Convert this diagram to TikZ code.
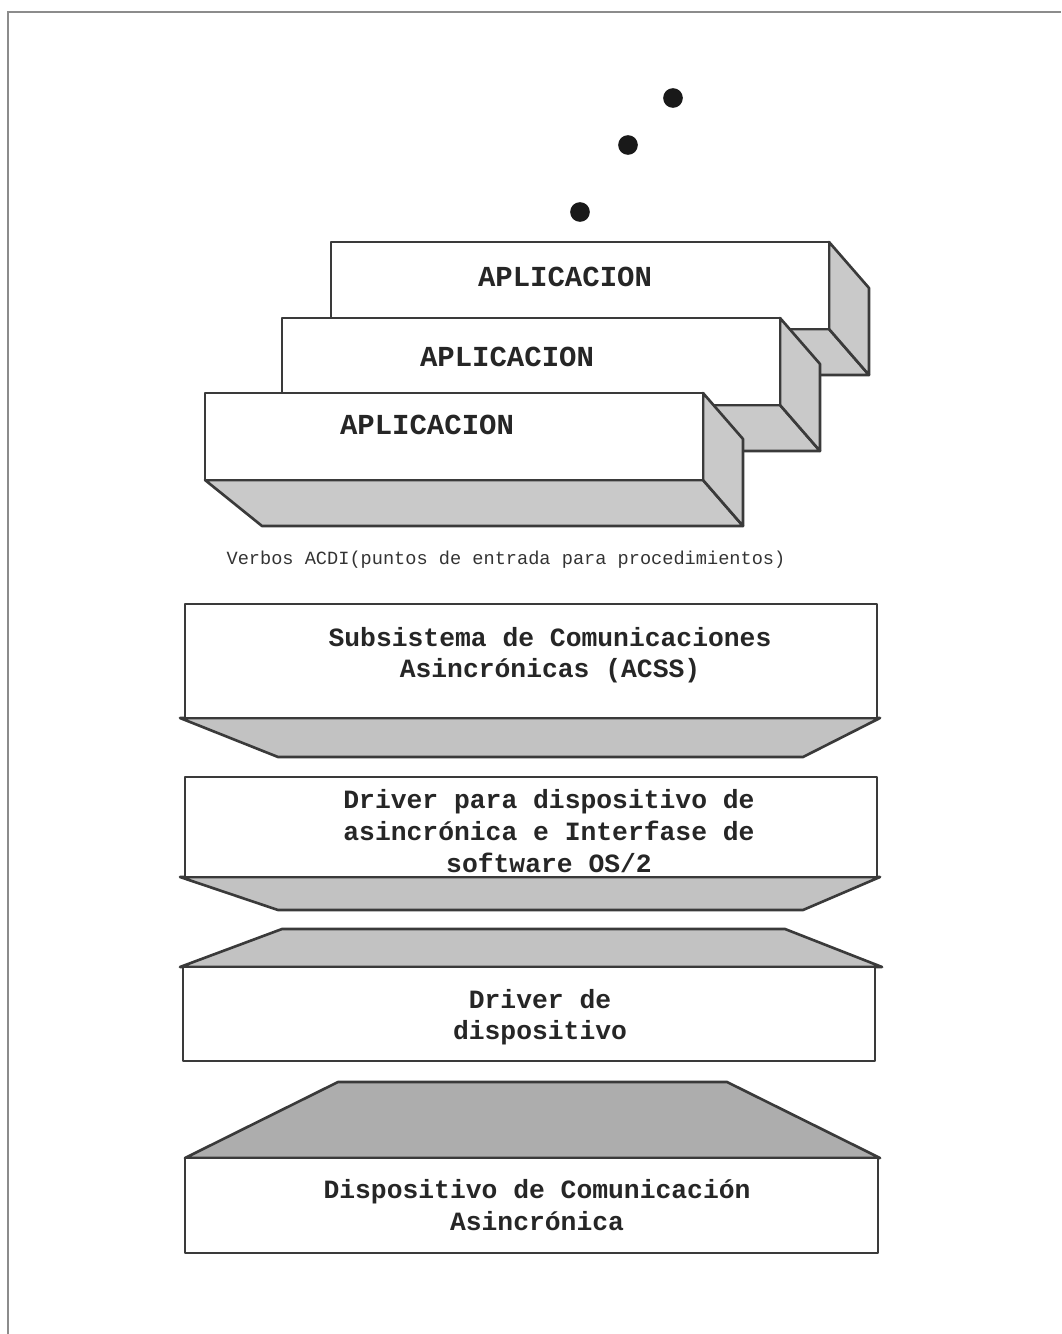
\documentclass[tikz,border=0pt]{standalone}
\usepackage{fontspec}
\usepackage{xcolor}
\newfontfamily\monofont{Liberation Mono}
\definecolor{linegray}{HTML}{3A3A3A}
\definecolor{sidegray}{HTML}{C9C9C9}
\definecolor{bevelgray}{HTML}{C2C2C2}
\definecolor{darkbevel}{HTML}{ADADAD}
\definecolor{framegray}{HTML}{8C8C8C}

\begin{document}
\begin{tikzpicture}[x=0.02cm,y=-0.02cm,
  face/.style={draw=linegray,fill=white,line width=1.5pt,line join=round},
  shadeface/.style={draw=linegray,fill=sidegray,line width=1.5pt,line join=round},
  layertext/.style={font=\monofont\bfseries\fontsize{15}{18}\selectfont,align=center,text=black!85},
  apptext/.style={font=\monofont\bfseries\fontsize{16.5}{20}\selectfont,text=black!85}]
\useasboundingbox (0,0) rectangle (1061,1334);
% frame of the page
\draw[framegray,line width=1.2pt] (8,1334) -- (8,12) -- (1061,12);
% dots
\foreach \x/\y in {580/212,628/145,673/98}{
\fill[black!90] (\x,\y) circle[radius=5.6pt];
}
% the three application boxes, back to front
\foreach \x/\y/\lx/\ly/\n in {331/242/565/277/1,282/318/507/357/2,205/393/427/425/3}{
\draw[shadeface] (\x,{\y+87}) -- ({\x+498},{\y+87}) -- ({\x+538},{\y+133}) -- ({\x+57},{\y+133}) -- cycle;
\draw[shadeface] ({\x+498},\y) -- ({\x+538},{\y+46}) -- ({\x+538},{\y+133}) -- ({\x+498},{\y+87}) -- cycle;
\draw[face] (\x,\y) rectangle ({\x+498},{\y+87});
\node[apptext] (app\n) at (\lx,\ly) {APLICACION};
}
\node[font=\monofont\fontsize{10.6}{12}\selectfont,text=black!80] (verbos) at (506,560) {Verbos ACDI(puntos de entrada para procedimientos)};
% ACSS
\draw[face,fill=bevelgray] (180,718) -- (880,718) -- (803,757) -- (278,757) -- cycle;
\draw[face] (185,604) rectangle (877,718);
\node[layertext] (acss) at (550,655) {Subsistema de Comunicaciones\\Asincrónicas (ACSS)};
% driver OS/2
\draw[face,fill=bevelgray] (180,877) -- (880,877) -- (803,910) -- (278,910) -- cycle;
\draw[face] (185,777) rectangle (877,877);
\node[layertext] (drvos) at (549,831) {Driver para dispositivo de\\asincrónica e Interfase de\\software OS/2};
% driver de dispositivo
\draw[face,fill=bevelgray] (282,929) -- (785,929) -- (882,967) -- (180,967) -- cycle;
\draw[face] (183,967) rectangle (875,1061);
\node[layertext] (drvdev) at (540,1017) {Driver de\\dispositivo};
% dispositivo
\draw[face,fill=darkbevel] (338,1082) -- (727,1082) -- (880,1158) -- (185,1158) -- cycle;
\draw[face] (185,1158) rectangle (878,1253);
\node[layertext] (devcom) at (537,1205) {Dispositivo de Comunicación\\Asincrónica};
\end{tikzpicture}
\end{document}
